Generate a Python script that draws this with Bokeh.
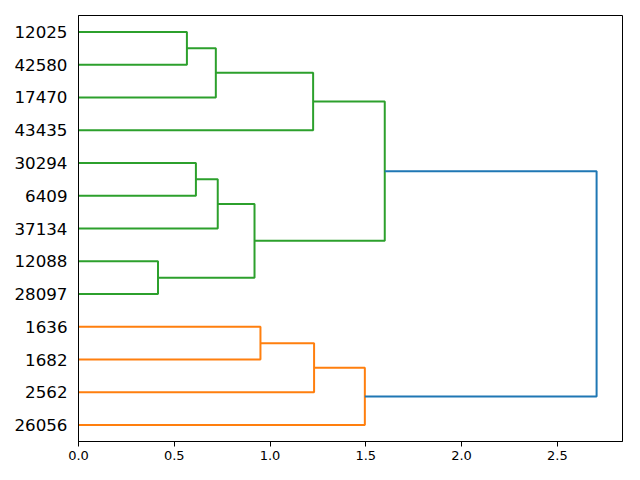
from bokeh.plotting import figure
from bokeh.models import Range1d, FixedTicker, PrintfTickFormatter
from bokeh.embed import file_html
from bokeh.resources import INLINE

# Leaves, top to bottom as displayed
leaf_labels = ["12025", "42580", "17470", "43435", "30294", "6409", "37134",
               "12088", "28097", "1636", "1682", "2562", "26056"]
# Merges: (cluster a, cluster b, distance); new clusters numbered from 13
merge_a = [0, 13, 14, 4, 16, 7, 17, 15, 9, 21, 22, 20]
merge_b = [1, 2, 3, 5, 6, 8, 18, 19, 10, 11, 12, 23]
merge_dist = [0.566, 0.717, 1.225, 0.613, 0.727, 0.415, 0.919, 1.599,
              0.950, 1.230, 1.495, 2.705]
merge_color = ["#2ca02c"] * 8 + ["#ff7f0e"] * 3 + ["#1f77b4"]
x_ticks = [0.0, 0.5, 1.0, 1.5, 2.0, 2.5]

n = len(leaf_labels)
leaf_pos = [10 * (n - 1 - i) + 5 for i in range(n)]
pos = {i: leaf_pos[i] for i in range(n)}
hgt = {i: 0.0 for i in range(n)}

xs, ys, cols = [], [], []
for k, (a, b, d) in enumerate(zip(merge_a, merge_b, merge_dist)):
    cid = n + k
    xs.append([hgt[a], d, d, hgt[b]])
    ys.append([pos[a], pos[a], pos[b], pos[b]])
    cols.append(merge_color[k])
    pos[cid] = (pos[a] + pos[b]) / 2
    hgt[cid] = d

xmax = max(merge_dist) * 1.05
p = figure(width=624, height=464, output_backend="svg", toolbar_location=None,
           x_range=Range1d(0, xmax), y_range=Range1d(0, 10 * n),
           min_border_left=78, min_border_right=2, min_border_top=15,
           min_border_bottom=23)
p.multi_line(xs=xs, ys=ys, line_color=cols, line_width=2)

p.grid.visible = False
p.outline_line_color = "black"
p.outline_line_width = 1
p.outline_line_alpha = 1

p.xaxis.ticker = FixedTicker(ticks=x_ticks)
p.xaxis.formatter = PrintfTickFormatter(format="%.1f")
p.xaxis.minor_tick_line_color = None
p.xaxis.major_tick_out = 5
p.xaxis.major_tick_in = 0
p.xaxis.major_label_standoff = 4
p.xaxis.major_label_text_font = "DejaVu Sans"
p.xaxis.major_label_text_font_size = "13px"
p.xaxis.major_label_text_color = "black"
p.xaxis.axis_line_color = "black"
p.xaxis.major_tick_line_color = "black"

p.yaxis.ticker = FixedTicker(ticks=leaf_pos)
p.yaxis.major_label_overrides = {leaf_pos[i]: leaf_labels[i] for i in range(n)}
p.yaxis.minor_tick_line_color = None
p.yaxis.major_tick_line_color = None
p.yaxis.major_tick_out = 0
p.yaxis.major_tick_in = 0
p.yaxis.major_label_standoff = 11
p.yaxis.major_label_text_font = "DejaVu Sans"
p.yaxis.major_label_text_font_size = "16.7px"
p.yaxis.major_label_text_color = "black"
p.yaxis.axis_line_color = "black"

open("out.html", "w").write(file_html(p, INLINE))
